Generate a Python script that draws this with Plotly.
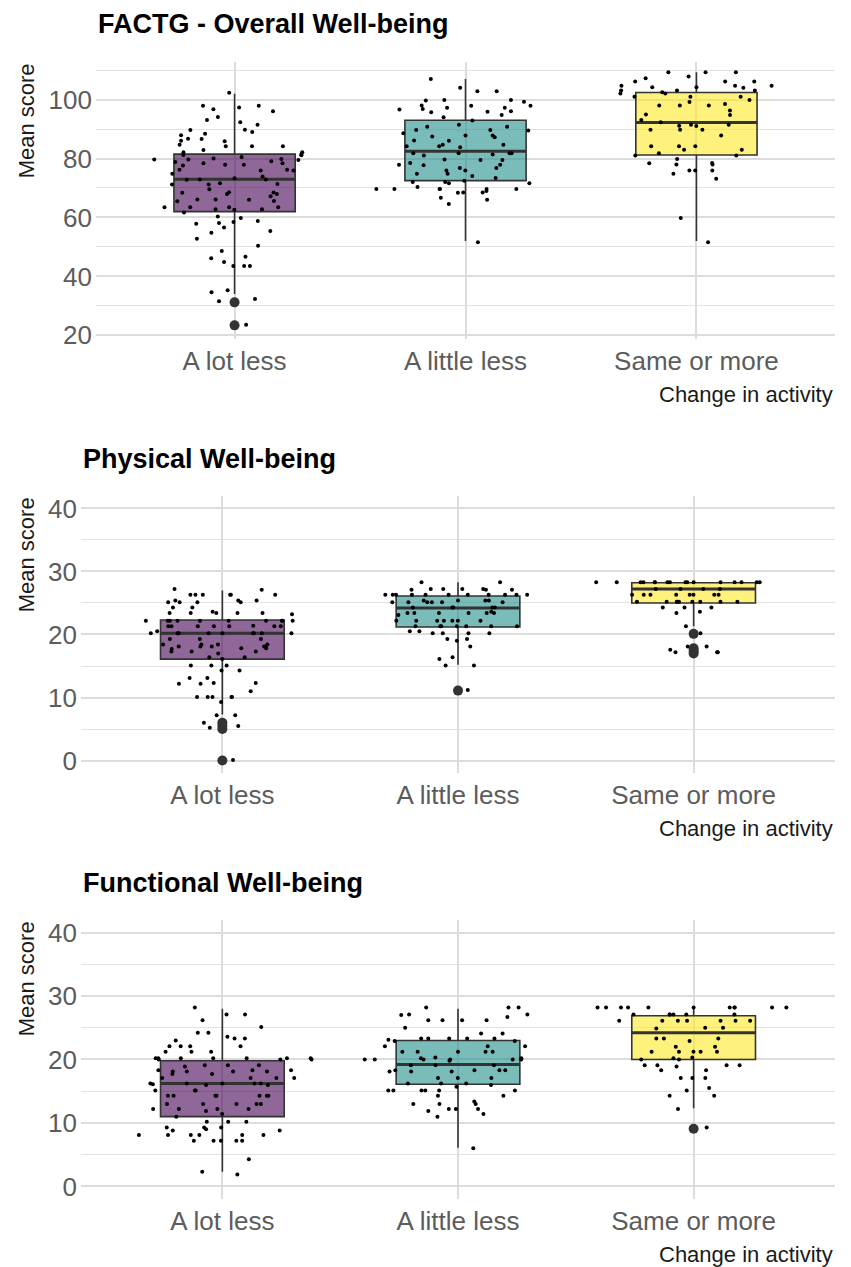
import plotly.graph_objects as go

categories = ["A lot less", "A little less", "Same or more"]
panel_titles = ["FACTG - Overall Well-being", "Physical Well-being", "Functional Well-being"]
fill_colors = ["rgba(68,1,84,0.6)", "rgba(33,144,140,0.6)", "rgba(253,231,37,0.6)"]

# ---------------- Panel 1: FACTG ----------------
p1_q1 = [62.0, 72.5, 81.2]
p1_median = [73.0, 82.5, 92.2]
p1_q3 = [81.5, 93.0, 102.4]
p1_lower = [34.0, 52.0, 52.0]
p1_upper = [102.0, 107.0, 109.3]
p1_outliers = [[31.2, 23.4], [], []]
p1_all_lot = [102.3, 92.3, 97.3, 97.9, 94.1, 91.5, 93.1, 96.7, 97.9, 96.0, 89.8, 89.7, 89.0, 87.9, 88.4,
              86.7, 84.2, 84.2, 85.9, 86.6, 84.7, 86.0, 84.2, 82.1, 81.1, 79.7, 79.7, 81.4, 79.1, 80.0,
              79.5, 78.4, 77.9, 81.2, 79.8, 76.2, 77.9, 82.1, 82.9, 78.4, 75.9, 80.5, 78.8, 77.6, 76.2,
              74.8, 75.9, 73.9, 72.9, 72.8, 71.2, 69.6, 71.4, 72.9, 71.2, 73.3, 71.6, 68.5, 68.4, 67.2,
              68.0, 68.0, 68.6, 66.1, 65.5, 66.1, 65.6, 66.0, 61.7, 63.5, 62.8, 63.5, 63.5, 62.8, 63.5,
              62.6, 57.9, 60.3, 58.8, 58.5, 59.8, 58.1, 56.6, 52.8, 55.4, 54.8, 50.4, 48.6, 46.7, 46.2,
              44.9, 43.5, 43.5, 43.5, 32.3, 31.6, 34.6, 35.3, 23.6]
p1_all_little = [102.8, 102.8, 99.7, 97.2, 107.0, 104.0, 98.0, 96.8, 95.7, 87.8, 87.5, 89.7, 90.8, 89.5,
                 87.8, 88.6, 86.1, 87.2, 84.7, 84.2, 84.7, 83.8, 81.8, 81.4, 79.5, 77.9, 77.7, 79.7, 74.8,
                 75.9, 74.8, 75.9, 74.1, 69.7, 69.0, 69.7, 68.4, 69.7, 69.7, 69.7,
                 97.9, 97.2, 97.9, 99.9, 96.6, 96.0, 95.9, 94.8, 94.0, 99.3, 99.9, 89.7, 91.5, 90.8, 92.9,
                 86.0, 84.2, 81.8, 81.8, 81.8, 81.0, 78.5, 76.8, 77.9, 76.8, 79.5, 73.4, 71.6, 71.6, 72.0,
                 70.3, 69.7, 72.5, 72.0, 68.5, 68.5, 66.0, 64.6, 66.7, 51.6]
p1_all_same = [104.7, 104.2, 107.2, 104.7, 103.1, 104.0, 104.7, 106.1, 106.1, 107.8, 106.1, 109.3, 109.3,
               109.3, 104.2, 103.1, 102.1, 103.1, 102.5, 102.1, 101.0, 98.0, 94.9, 99.2, 98.0, 99.9, 98.0,
               101.0, 98.5, 101.0, 96.3, 94.8, 92.3, 91.1, 91.5, 89.8, 91.0, 89.8, 93.1, 91.5, 89.8, 87.8,
               83.0, 84.2, 84.2, 83.0, 81.8, 84.2, 81.0, 81.0, 75.9, 75.9, 78.0, 78.0, 78.5, 74.8, 75.9,
               79.8, 78.4, 73.1, 59.8, 51.6]

# ---------------- Panel 2: Physical ----------------
p2_q1 = [16.1, 21.2, 25.0]
p2_median = [20.2, 24.2, 27.2]
p2_q3 = [22.3, 26.1, 28.2]
p2_lower = [7.3, 15.2, 21.3]
p2_upper = [27.0, 28.3, 28.3]
p2_outliers = [[0.0, 5.0, 5.5, 6.0], [11.1], [20.1, 17.8, 17.4, 17.0]]
p2_all_lot = [26.3, 26.3, 27.1, 22.2, 21.4, 18.1, 14.3, 15.1, 19.3, 18.4, 19.3, 23.4, 12.3, 13.1, 5.2,
              6.0, 7.2, 26.3, 25.4, 22.2, 22.2, 22.2, 21.3, 21.3, 21.3, 20.2, 20.2, 17.3, 17.0, 16.4,
              18.1, 17.8, 18.4, 16.1, 25.4, 26.3, 25.1, 23.2, 23.4, 23.4, 23.4, 26.3, 24.3, 18.1, 18.4,
              22.2, 22.2, 22.2, 11.0, 10.1, 0.1, 12.2, 12.2, 20.2, 20.2, 21.3, 18.1, 25.4, 25.1, 22.2,
              17.3, 20.2, 9.3, 17.8, 21.3, 18.4, 10.1, 17.3, 17.7, 27.2, 26.3, 25.1, 24.3, 23.6, 25.1,
              22.2, 22.2, 20.5, 10.1, 10.1, 15.1, 21.3, 19.3, 16.4, 23.4, 21.3, 20.2, 20.2, 20.2, 20.2,
              12.3, 13.1, 14.3, 10.1, 7.2, 15.1, 18.1, 5.5]
p2_all_little = [25.1, 24.3, 23.4, 20.5, 26.3, 25.4, 27.2, 27.2, 22.2, 21.3, 19.0, 16.1, 26.3, 26.3, 27.1,
                 25.1, 23.6, 24.3, 23.4, 25.4, 20.5, 20.2, 21.3, 15.1, 15.1, 28.3, 27.2, 23.4, 23.4, 24.3,
                 26.3, 27.2, 25.4, 24.3, 23.4, 23.1, 26.3, 26.3, 26.3, 25.1, 27.1, 27.1, 25.1, 26.3, 24.3,
                 23.4, 22.2, 22.2, 22.2, 22.2, 20.2, 19.3, 16.4, 26.3, 26.3, 26.3, 25.4, 25.1, 25.1, 28.3,
                 22.2, 21.3, 21.3, 21.3, 21.3, 22.2, 21.3, 20.2, 19.3, 18.1, 20.2, 11.2]
p2_all_same = [28.3, 28.3, 28.3, 28.3, 28.3, 28.3, 28.3, 28.3, 28.3, 28.3, 28.3, 28.3, 28.3, 28.3, 28.3,
               28.3, 27.2, 27.2, 26.3, 26.3, 26.3, 26.3, 26.3, 26.3, 26.3, 26.3, 27.2, 27.2, 25.2, 25.2,
               25.2, 25.2, 25.2, 25.2, 25.2, 25.2, 25.2, 23.6, 24.3, 23.4, 24.3, 24.3, 21.3, 17.2, 18.1,
               17.2, 18.1, 20.2, 20.1, 17.6, 17.2]

# ---------------- Panel 3: Functional ----------------
p3_q1 = [11.0, 16.1, 20.0]
p3_median = [16.2, 19.2, 24.2]
p3_q3 = [19.8, 23.0, 26.9]
p3_lower = [2.3, 6.1, 12.3]
p3_upper = [28.0, 28.0, 28.3]
p3_outliers = [[], [], [9.1]]
p3_all_lot = [27.1, 26.2, 25.1, 24.2, 24.2, 23.6, 23.0, 22.1, 22.1, 21.2, 19.1, 20.2, 20.0, 19.1, 18.9,
              17.7, 18.1, 19.1, 16.2, 16.2, 16.2, 16.2, 14.3, 14.3, 14.3, 16.0, 15.1, 13.0, 13.0, 11.4,
              10.2, 7.2, 8.1, 8.1, 7.2, 9.3, 8.8, 9.3, 8.1, 8.1, 8.1, 1.9, 20.2, 20.2, 20.2, 20.2, 17.1,
              18.1, 14.3, 12.2, 15.1, 17.7, 17.1, 23.3, 18.1, 20.2, 20.0, 13.0, 11.9, 12.2, 28.2, 22.1,
              16.1, 16.0, 11.0, 9.0, 7.2, 7.2, 13.0, 21.2, 9.3, 14.3, 10.2, 18.3, 20.2, 15.1, 14.3, 22.1,
              10.2, 7.2, 8.1, 12.2, 21.2, 20.0, 2.3, 4.3, 8.8, 14.3, 16.2, 18.1, 27.1, 23.3, 17.1, 17.1,
              18.3, 18.3, 13.0, 12.2]
p3_all_little = [26.2, 22.1, 21.2, 19.1, 20.2, 20.2, 24.1, 23.3, 23.1, 28.2, 28.2, 27.1, 26.2, 23.3, 23.3,
                 21.2, 18.3, 18.1, 19.1, 17.1, 16.2, 16.0, 15.1, 15.1, 15.1, 13.0, 11.9, 12.2, 13.0, 11.0,
                 13.4, 22.1, 27.0, 15.1, 15.1, 27.1, 28.2, 26.2, 26.7, 26.2, 25.0, 24.1, 23.3, 21.2, 20.0,
                 20.0, 18.3, 18.1, 17.1, 22.9, 22.9, 19.8, 17.1, 20.3, 20.0, 21.2, 20.0, 20.0, 20.0, 22.1,
                 19.1, 18.3, 18.1, 23.3, 21.2, 18.3, 16.2, 15.7, 16.2, 14.3, 13.0, 12.2, 11.4, 12.2, 15.1,
                 14.3, 6.0]
p3_all_same = [28.2, 28.2, 28.2, 28.2, 28.2, 28.2, 28.2, 28.2, 28.2, 28.2, 28.2, 27.1, 27.1, 27.1, 27.1,
               27.1, 27.1, 26.1, 26.1, 26.1, 26.1, 26.1, 26.1, 26.1, 24.9, 25.0, 25.0, 23.3, 23.3, 22.9,
               23.3, 21.2, 21.2, 21.2, 21.2, 21.2, 22.0, 22.0, 20.2, 20.3, 20.0, 20.0, 19.1, 19.1, 19.1,
               19.1, 18.9, 18.3, 18.3, 17.1, 17.1, 17.1, 15.1, 15.5, 14.3, 14.3, 12.2, 9.3]

panels = [
    dict(q1=p1_q1, med=p1_median, q3=p1_q3, lo=p1_lower, hi=p1_upper, outs=p1_outliers,
         pts=[p1_all_lot, p1_all_little, p1_all_same]),
    dict(q1=p2_q1, med=p2_median, q3=p2_q3, lo=p2_lower, hi=p2_upper, outs=p2_outliers,
         pts=[p2_all_lot, p2_all_little, p2_all_same]),
    dict(q1=p3_q1, med=p3_median, q3=p3_q3, lo=p3_lower, hi=p3_upper, outs=p3_outliers,
         pts=[p3_all_lot, p3_all_little, p3_all_same]),
]

W = 851
H_DESIGN = 1267          # layout designed in this pixel space
H_FIG = 1277             # figure height
FONT = "Liberation Sans, Arial, sans-serif"
# pixel layout of each panel (design space): (left, right, top, bottom)
boxes_px = [(96, 835, 60, 338), (81, 835, 495, 773), (81, 835, 920, 1200)]
yranges = [[18.7, 112.8], [-2, 42], [-2, 42]]
ymajor = [20, 10, 10]
yminor = [10, 5, 5]
title_y = [22, 458, 883]
xtitle_y = [393, 828, 1255]


def py(p):
    return 1 - p / H_DESIGN


fig = go.Figure()
for pi, pan in enumerate(panels):
    xa = "x" if pi == 0 else f"x{pi+1}"
    ya = "y" if pi == 0 else f"y{pi+1}"
    for ci, cat in enumerate(categories):
        fig.add_trace(go.Box(
            x=[cat], q1=[pan["q1"][ci]], median=[pan["med"][ci]], q3=[pan["q3"][ci]],
            lowerfence=[pan["lo"][ci]], upperfence=[pan["hi"][ci]],
            fillcolor=fill_colors[ci], line=dict(color="#333333", width=1.6),
            boxpoints=False, whiskerwidth=0, showlegend=False, xaxis=xa, yaxis=ya,
            hoverinfo="skip"))
        m = pan["med"][ci]
        fig.add_trace(go.Box(
            x=[cat], q1=[m], median=[m], q3=[m], lowerfence=[m], upperfence=[m],
            fillcolor="rgba(0,0,0,0)", line=dict(color="#333333", width=3),
            boxpoints=False, whiskerwidth=0, showlegend=False, xaxis=xa, yaxis=ya,
            hoverinfo="skip"))
    for ci, cat in enumerate(categories):
        if pan["outs"][ci]:
            fig.add_trace(go.Scatter(
                x=[cat] * len(pan["outs"][ci]), y=pan["outs"][ci], mode="markers",
                marker=dict(size=10, color="#333333"), showlegend=False,
                xaxis=xa, yaxis=ya, hoverinfo="skip"))
    for ci, cat in enumerate(categories):
        fig.add_trace(go.Box(
            x=[cat] * len(pan["pts"][ci]), y=pan["pts"][ci], boxpoints="all", jitter=1, pointpos=0,
            width=0.84,
            fillcolor="rgba(0,0,0,0)", line=dict(color="rgba(0,0,0,0)", width=0),
            marker=dict(color="black", size=4), whiskerwidth=0, showlegend=False,
            xaxis=xa, yaxis=ya, hoveron="points"))

layout = dict(
    width=W, height=H_FIG, autosize=False, margin=dict(l=0, r=0, t=0, b=0, pad=0),
    paper_bgcolor="white", plot_bgcolor="white",
    boxmode="overlay", boxgap=0.25, showlegend=False,
    font=dict(family=FONT),
)
annotations = []
for pi in range(3):
    l, r, t, b = boxes_px[pi]
    xkey = "xaxis" if pi == 0 else f"xaxis{pi+1}"
    ykey = "yaxis" if pi == 0 else f"yaxis{pi+1}"
    ya = "y" if pi == 0 else f"y{pi+1}"
    xa = "x" if pi == 0 else f"x{pi+1}"
    layout[xkey] = dict(
        domain=[l / W, r / W], anchor=ya, type="category",
        categoryorder="array", categoryarray=categories, range=[-0.6, 2.6],
        showgrid=True, gridcolor="#dcdcdc", gridwidth=1.5, zeroline=False, showline=False,
        ticks="", tickfont=dict(size=26, color="#5c5c5c", family=FONT), ticklabelstandoff=4,
    )
    layout[ykey] = dict(
        domain=[py(b), py(t)], anchor=xa, range=yranges[pi],
        tick0=0, dtick=ymajor[pi], showgrid=True, gridcolor="#dcdcdc", gridwidth=1.5,
        minor=dict(dtick=yminor[pi], tick0=0, showgrid=True, gridcolor="#e2e2e2", gridwidth=1.3),
        zeroline=False, showline=False, ticks="",
        tickfont=dict(size=26, color="#5c5c5c", family=FONT), ticklabelstandoff=3,
    )
    annotations.append(dict(
        text="<b>" + panel_titles[pi] + "</b>", xref="paper", yref="paper",
        x=l / W, y=py(title_y[pi]), xanchor="left", yanchor="middle", showarrow=False,
        font=dict(size=27, color="black", family=FONT)))
    annotations.append(dict(
        text="Mean score", xref="paper", yref="paper", textangle=-90,
        x=26 / W, y=py(t), xanchor="center", yanchor="top", showarrow=False,
        font=dict(size=22, color="#1a1a1a", family=FONT)))
    annotations.append(dict(
        text="Change in activity", xref="paper", yref="paper",
        x=r / W, y=py(xtitle_y[pi]), xanchor="right", yanchor="middle", showarrow=False,
        font=dict(size=22, color="#1a1a1a", family=FONT)))
layout["annotations"] = annotations
fig.update_layout(**layout)

fig.write_html("out.html",
               config={"displayModeBar": False, "responsive": False},
               post_script="document.body.style.margin='0px';document.body.style.overflow='hidden';")
